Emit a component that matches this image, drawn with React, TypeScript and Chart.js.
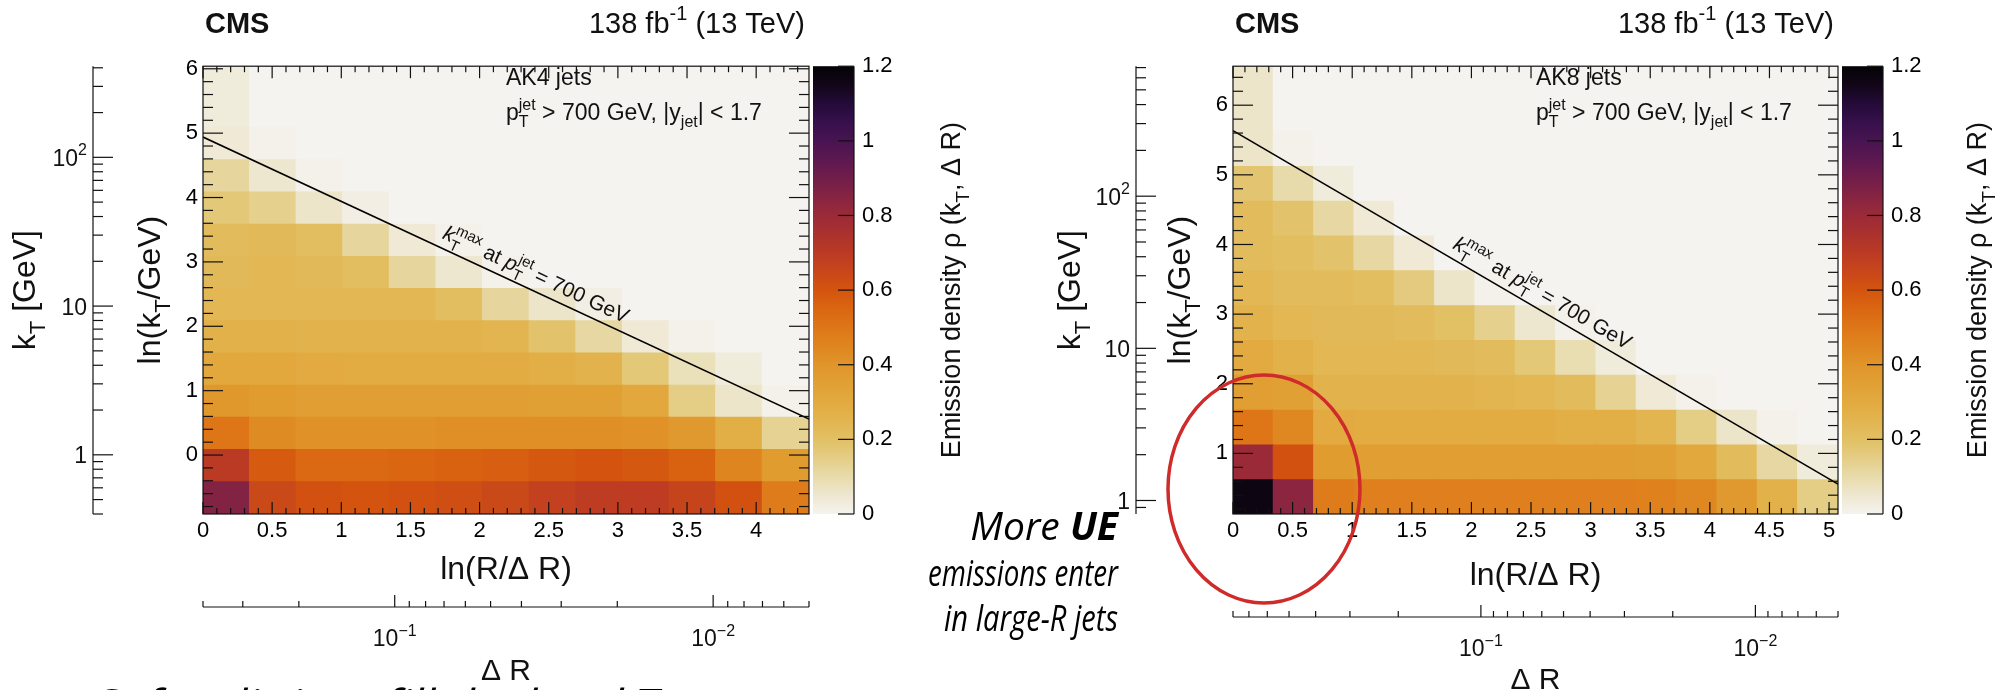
import React, { useEffect, useRef } from 'react';
import { Chart, registerables } from 'chart.js';

Chart.register(...registerables);

const FONT = '"Liberation Sans", Arial, Helvetica, sans-serif';
const SLIDE_FONT = '"Open Sans", "Noto Sans", sans-serif';
const INK = '#111111';
const H = 690;

// ---------- z-axis colour palette (emission density) ----------
const CMAP_V = [0, 0.05, 0.1, 0.15, 0.2, 0.25, 0.3, 0.35, 0.4, 0.45, 0.5, 0.55, 0.6, 0.65, 0.7, 0.75, 0.8, 0.85, 0.9, 0.95, 1.0, 1.05, 1.1, 1.15, 1.2];
const CMAP_C = ['#f4f3ef', '#eee7d0', '#e8dbab', '#e4cd85', '#e2c064', '#e2b550', '#e2aa40', '#e1a034', '#e0952a', '#df8520', '#de7618', '#da6612', '#d4540f', '#c8461a', '#bb3a24', '#ab312e', '#9b2a38', '#872442', '#711d4a', '#5c1850', '#481452', '#36104c', '#240b38', '#120618', '#050306'];
const Z_MIN = 0;
const Z_MAX = 1.2;
const Z_STEP = 0.2;

// ---------- AK4 jets (R = 0.4) ----------
const AK4_X_EDGES = [0, 0.337, 0.674, 1.011, 1.348, 1.685, 2.022, 2.359, 2.696, 3.034, 3.371, 3.708, 4.045, 4.382];
const AK4_Y_EDGES = [-0.916, -0.416, 0.084, 0.584, 1.084, 1.584, 2.084, 2.584, 3.084, 3.584, 4.084, 4.584, 5.084, 5.584, 6.084];
const AK4_RHO = [
  [0.86, 0.64, 0.61, 0.60, 0.61, 0.62, 0.64, 0.67, 0.69, 0.69, 0.66, 0.61, 0.48],
  [0.70, 0.58, 0.54, 0.54, 0.55, 0.56, 0.57, 0.59, 0.60, 0.59, 0.56, 0.45, 0.37],
  [0.50, 0.43, 0.41, 0.41, 0.41, 0.42, 0.42, 0.42, 0.42, 0.41, 0.38, 0.28, 0.13],
  [0.39, 0.37, 0.36, 0.36, 0.36, 0.36, 0.36, 0.35, 0.35, 0.31, 0.15, 0.06, 0.01],
  [0.31, 0.31, 0.30, 0.29, 0.29, 0.29, 0.29, 0.28, 0.26, 0.17, 0.08, 0.03, 0.00],
  [0.27, 0.27, 0.26, 0.26, 0.26, 0.26, 0.25, 0.19, 0.11, 0.04, 0.01, 0.00, 0.00],
  [0.24, 0.24, 0.24, 0.24, 0.24, 0.21, 0.12, 0.06, 0.02, 0.00, 0.00, 0.00, 0.00],
  [0.23, 0.24, 0.23, 0.21, 0.12, 0.05, 0.01, 0.00, 0.00, 0.00, 0.00, 0.00, 0.00],
  [0.22, 0.23, 0.21, 0.12, 0.04, 0.01, 0.00, 0.00, 0.00, 0.00, 0.00, 0.00, 0.00],
  [0.17, 0.14, 0.06, 0.02, 0.00, 0.00, 0.00, 0.00, 0.00, 0.00, 0.00, 0.00, 0.00],
  [0.12, 0.05, 0.01, 0.00, 0.00, 0.00, 0.00, 0.00, 0.00, 0.00, 0.00, 0.00, 0.00],
  [0.04, 0.01, 0.00, 0.00, 0.00, 0.00, 0.00, 0.00, 0.00, 0.00, 0.00, 0.00, 0.00],
  [0.03, 0.00, 0.00, 0.00, 0.00, 0.00, 0.00, 0.00, 0.00, 0.00, 0.00, 0.00, 0.00],
  [0.03, 0.00, 0.00, 0.00, 0.00, 0.00, 0.00, 0.00, 0.00, 0.00, 0.00, 0.00, 0.00],
];
const AK4_KTMAX_X = [0, 4.382];
const AK4_KTMAX_Y = [4.94, 0.558];

// ---------- AK8 jets (R = 0.8) ----------
const AK8_X_EDGES = [0, 0.338, 0.677, 1.015, 1.353, 1.692, 2.030, 2.368, 2.707, 3.045, 3.383, 3.722, 4.060, 4.398, 4.737, 5.075];
const AK8_Y_EDGES = [0.12, 0.62, 1.12, 1.62, 2.12, 2.62, 3.12, 3.62, 4.12, 4.62, 5.12, 5.62, 6.12, 6.62];
const AK8_RHO = [
  [1.17, 0.84, 0.48, 0.47, 0.47, 0.47, 0.47, 0.47, 0.47, 0.47, 0.46, 0.44, 0.38, 0.27, 0.15],
  [0.80, 0.61, 0.37, 0.36, 0.36, 0.36, 0.36, 0.36, 0.36, 0.36, 0.35, 0.31, 0.22, 0.11, 0.03],
  [0.50, 0.44, 0.30, 0.29, 0.29, 0.29, 0.29, 0.29, 0.28, 0.28, 0.25, 0.15, 0.06, 0.01, 0.00],
  [0.36, 0.35, 0.26, 0.26, 0.26, 0.26, 0.25, 0.24, 0.22, 0.13, 0.04, 0.01, 0.00, 0.00, 0.00],
  [0.30, 0.27, 0.24, 0.24, 0.24, 0.23, 0.22, 0.17, 0.09, 0.03, 0.00, 0.00, 0.00, 0.00, 0.00],
  [0.26, 0.24, 0.23, 0.23, 0.22, 0.20, 0.14, 0.05, 0.01, 0.00, 0.00, 0.00, 0.00, 0.00, 0.00],
  [0.24, 0.22, 0.22, 0.21, 0.16, 0.06, 0.01, 0.00, 0.00, 0.00, 0.00, 0.00, 0.00, 0.00, 0.00],
  [0.22, 0.21, 0.19, 0.11, 0.04, 0.00, 0.00, 0.00, 0.00, 0.00, 0.00, 0.00, 0.00, 0.00, 0.00],
  [0.22, 0.19, 0.11, 0.04, 0.00, 0.00, 0.00, 0.00, 0.00, 0.00, 0.00, 0.00, 0.00, 0.00, 0.00],
  [0.18, 0.10, 0.03, 0.00, 0.00, 0.00, 0.00, 0.00, 0.00, 0.00, 0.00, 0.00, 0.00, 0.00, 0.00],
  [0.06, 0.01, 0.00, 0.00, 0.00, 0.00, 0.00, 0.00, 0.00, 0.00, 0.00, 0.00, 0.00, 0.00, 0.00],
  [0.06, 0.00, 0.00, 0.00, 0.00, 0.00, 0.00, 0.00, 0.00, 0.00, 0.00, 0.00, 0.00, 0.00, 0.00],
  [0.06, 0.00, 0.00, 0.00, 0.00, 0.00, 0.00, 0.00, 0.00, 0.00, 0.00, 0.00, 0.00, 0.00, 0.00],
];
const AK8_KTMAX_X = [0, 5.075];
const AK8_KTMAX_Y = [5.635, 0.56];

// ---------- secondary axis tick labels ----------
const KT_LABEL_VALUES = [1, 10, 100];
const KT_LABEL_TEXT = [[{ t: '1' }], [{ t: '10' }], [{ t: '10', sup: '2' }]];
const DR_LABEL_VALUES = [0.1, 0.01];
const DR_LABEL_TEXT = [[{ t: '10', sup: '\u22121' }], [{ t: '10', sup: '\u22122' }]];

// ---------- texts ----------
const T_LN_KT = [{ t: 'ln(k', sub: 'T' }, { t: '/GeV)' }];
const T_KT = [{ t: 'k', sub: 'T' }, { t: ' [GeV]' }];
const T_X = [{ t: 'ln(R/\u0394 R)' }];
const T_DR = [{ t: '\u0394 R' }];
const T_Z = [{ t: 'Emission density \u03c1 (k', sub: 'T' }, { t: ', \u0394 R)' }];
const T_LUMI = [{ t: '138 fb', sup: '-1' }, { t: ' (13 TeV)' }];
const T_SEL = [{ t: 'p', sub: 'T', sup: 'jet' }, { t: ' > 700 GeV, |y', sub: 'jet' }, { t: '| < 1.7' }];
const T_DIAG = [{ t: 'k', it: true, sub: 'T', sup: 'max' }, { t: ' at ' }, { t: 'p', it: true, sub: 'T', sup: 'jet' }, { t: ' = 700 GeV' }];
const UE_LINES = [
  [{ t: 'More ', it: true }, { t: 'UE', it: true, b: true }],
  [{ t: 'emissions enter', it: true }],
  [{ t: 'in large-R jets', it: true }],
];
const UE_SIZES = [39, 37, 37];
const UE_WIDTHS = [0, 190, 174];
const UE_BASELINES = [540, 586, 631];
const FOOTER = [{ t: 'Soft splittings fill the low-kT area', it: true }];

// ---------- panels (data + page layout in px) ----------
const PANELS = [
  {
    key: 'ak4', jet: 'AK4 jets', R: 0.4, drMin: 0.005,
    xEdges: AK4_X_EDGES, yEdges: AK4_Y_EDGES, rho: AK4_RHO, lineX: AK4_KTMAX_X, lineY: AK4_KTMAX_Y,
    xMax: 4.382, yMin: -0.916, yMax: 6.04, kMin: 0.4, kMax: 410,
    canvasLeft: 0, canvasW: 1010,
    area: { left: 203, right: 809, top: 48, bottom: 514 },
    kAxisX: 93, kTitleX: 35, lnTitleX: 160, zTitleX: 960,
    xTitleBase: 579, drAxisY: 607, drLabelBase: 646, drTitleBase: 680, diagX: 2.36,
    footer: true, ue: false,
  },
  {
    key: 'ak8', jet: 'AK8 jets', R: 0.8, drMin: 0.005,
    xEdges: AK8_X_EDGES, yEdges: AK8_Y_EDGES, rho: AK8_RHO, lineX: AK8_KTMAX_X, lineY: AK8_KTMAX_Y,
    xMax: 5.075, yMin: 0.13, yMax: 6.56, kMin: 0.815, kMax: 715,
    canvasLeft: 900, canvasW: 1115,
    area: { left: 1233, right: 1838, top: 48, bottom: 514 },
    kAxisX: 1136, kTitleX: 1080, lnTitleX: 1190, zTitleX: 1986,
    xTitleBase: 585, drAxisY: 617, drLabelBase: 656, drTitleBase: 689, diagX: 2.53,
    footer: false, ue: true,
  },
];

function hexToRgb(h: string) {
  return [parseInt(h.slice(1, 3), 16), parseInt(h.slice(3, 5), 16), parseInt(h.slice(5, 7), 16)];
}
const CMAP_RGB = CMAP_C.map(hexToRgb);

function cmap(v: number) {
  if (v <= CMAP_V[0]) return CMAP_C[0];
  for (let i = 1; i < CMAP_V.length; i++) {
    if (v <= CMAP_V[i]) {
      const t = (v - CMAP_V[i - 1]) / (CMAP_V[i] - CMAP_V[i - 1]);
      const a = CMAP_RGB[i - 1], b = CMAP_RGB[i];
      const c = a.map((x, k) => Math.round(x + (b[k] - x) * t));
      return `rgb(${c[0]},${c[1]},${c[2]})`;
    }
  }
  return CMAP_C[CMAP_C.length - 1];
}

const fmtTick = (v: any) => String(parseFloat(Number(v).toFixed(3)));

function layoutRich(ctx: any, segs: any[], size: number, fam: string) {
  const small = Math.round(size * 0.7);
  const f = (sz: number, it?: boolean, b?: boolean) => `${it ? 'italic ' : ''}${b ? 'bold ' : ''}${sz}px ${fam}`;
  const items: any[] = [];
  let w = 0;
  for (const s of segs) {
    if (s.t) {
      const font = f(size, s.it, s.b);
      ctx.font = font;
      const mw = ctx.measureText(s.t).width;
      items.push({ t: s.t, font, dx: w, dy: 0 });
      w += mw;
    }
    if (s.sub || s.sup) {
      const font = f(small, false, s.b);
      ctx.font = font;
      let mw = 0;
      if (s.sub) { items.push({ t: s.sub, font, dx: w, dy: size * 0.32 }); mw = Math.max(mw, ctx.measureText(s.sub).width); }
      if (s.sup) { items.push({ t: s.sup, font, dx: w, dy: -size * 0.45 }); mw = Math.max(mw, ctx.measureText(s.sup).width); }
      w += mw;
    }
  }
  return { items, w };
}

function drawRich(ctx: any, segs: any[], x: number, y: number, size: number, align: string, fam: string = FONT, fitW?: number) {
  const { items, w } = layoutRich(ctx, segs, size, fam);
  const sx = fitW ? fitW / w : 1;
  const tw = w * sx;
  const x0 = align === 'left' ? x : align === 'right' ? x - tw : x - tw / 2;
  ctx.save();
  ctx.translate(x0, y);
  ctx.scale(sx, 1);
  ctx.textAlign = 'left';
  ctx.textBaseline = 'alphabetic';
  for (const it of items) {
    ctx.font = it.font;
    ctx.fillText(it.t, it.dx, it.dy);
  }
  ctx.restore();
  return tw;
}

function drawRotated(ctx: any, segs: any[], bx: number, cy: number, size: number) {
  ctx.save();
  ctx.translate(bx, cy);
  ctx.rotate(-Math.PI / 2);
  drawRich(ctx, segs, 0, 0, size, 'center');
  ctx.restore();
}

function makeLundPlugin(P: any) {
  return {
    id: 'lund_' + P.key,
    afterDraw(chart: any) {
      const ctx = chart.ctx;
      const xs = chart.scales.x, ys = chart.scales.y, ks = chart.scales.yk, cs = chart.scales.c;
      const { left, right, top, bottom } = chart.chartArea;
      const ox = P.canvasLeft;
      ctx.save();
      ctx.strokeStyle = INK;
      ctx.fillStyle = INK;
      ctx.lineWidth = 1.2;
      const seg = (x1: number, y1: number, x2: number, y2: number) => {
        ctx.beginPath(); ctx.moveTo(x1, y1); ctx.lineTo(x2, y2); ctx.stroke();
      };

      // frame + ROOT style inner ticks
      ctx.strokeRect(left, top, right - left, bottom - top);
      const nx = Math.floor(P.xMax / 0.1 + 1e-6);
      for (let i = 0; i <= nx; i++) {
        const px = xs.getPixelForValue(i * 0.1);
        const L = i % 5 === 0 ? 12 : 6;
        seg(px, bottom, px, bottom - L);
        seg(px, top, px, top + L);
      }
      for (let i = Math.ceil(P.yMin / 0.2 - 1e-6); i * 0.2 <= P.yMax + 1e-6; i++) {
        const py = ys.getPixelForValue(i * 0.2);
        const L = i % 5 === 0 ? 20 : 10;
        seg(left, py, left + L, py);
        seg(right, py, right - L, py);
      }

      // colour bar
      const cbL = right + 4, cbW = 41;
      const cTop = cs.getPixelForValue(Z_MAX), cBot = cs.getPixelForValue(Z_MIN);
      const g = ctx.createLinearGradient(0, cBot, 0, cTop);
      CMAP_V.forEach((v, i) => g.addColorStop((v - Z_MIN) / (Z_MAX - Z_MIN), CMAP_C[i]));
      ctx.fillStyle = g;
      ctx.fillRect(cbL, cTop, cbW, cBot - cTop);
      ctx.fillStyle = INK;
      seg(cbL + cbW, cTop, cbL + cbW, cBot);
      for (const t of cs.ticks) {
        const py = cs.getPixelForValue(t.value);
        seg(cbL + cbW - 16, py, cbL + cbW, py);
      }
      drawRotated(ctx, T_Z, P.zTitleX - ox, (top + bottom) / 2, 27);

      // kT axis (log)
      const kx = P.kAxisX - ox;
      seg(kx, top, kx, bottom);
      for (let e = -1; e <= 3; e++) {
        for (let m = 1; m <= 9; m++) {
          const v = m * Math.pow(10, e);
          if (v < P.kMin * 0.999 || v > P.kMax * 1.001) continue;
          const py = ks.getPixelForValue(v);
          seg(kx, py, kx + (m === 1 ? 20 : 10), py);
        }
      }
      KT_LABEL_VALUES.forEach((v, i) => {
        const py = ks.getPixelForValue(v);
        drawRich(ctx, KT_LABEL_TEXT[i], kx - 6, py + 8.5, 23, 'right');
      });
      drawRotated(ctx, T_KT, P.kTitleX - ox, (top + bottom) / 2, 32);
      drawRotated(ctx, T_LN_KT, P.lnTitleX - ox, (top + bottom) / 2, 32);

      // x title
      drawRich(ctx, T_X, (left + right) / 2, P.xTitleBase, 32, 'center');

      // Delta R axis
      const dy = P.drAxisY;
      seg(left, dy, right, dy);
      for (let e = -3; e <= 0; e++) {
        for (let m = 1; m <= 9; m++) {
          const v = m * Math.pow(10, e);
          if (v > P.R * 1.001 || v < P.drMin * 0.999) continue;
          const px = xs.getPixelForValue(Math.log(P.R / v));
          seg(px, dy, px, dy - (m === 1 ? 12 : 6));
        }
      }
      DR_LABEL_VALUES.forEach((v, i) => {
        const px = xs.getPixelForValue(Math.log(P.R / v));
        drawRich(ctx, DR_LABEL_TEXT[i], px, P.drLabelBase, 23, 'center');
      });
      drawRich(ctx, T_DR, (left + right) / 2, P.drTitleBase, 30, 'center');

      // headers
      drawRich(ctx, [{ t: 'CMS', b: true }], left + 2, 33, 29, 'left');
      drawRich(ctx, T_LUMI, right - 4, 33, 29, 'right');
      drawRich(ctx, [{ t: P.jet }], left + 303, 85, 23, 'left');
      drawRich(ctx, T_SEL, left + 303, 120, 23, 'left');

      // label along the kT max line
      const x0p = xs.getPixelForValue(P.lineX[0]), y0p = ys.getPixelForValue(P.lineY[0]);
      const x1p = xs.getPixelForValue(P.lineX[1]), y1p = ys.getPixelForValue(P.lineY[1]);
      const ang = Math.atan2(y1p - y0p, x1p - x0p);
      const tt = (P.diagX - P.lineX[0]) / (P.lineX[1] - P.lineX[0]);
      ctx.save();
      ctx.translate(x0p + tt * (x1p - x0p), y0p + tt * (y1p - y0p));
      ctx.rotate(ang);
      drawRich(ctx, T_DIAG, 0, -9, 21, 'center');
      ctx.restore();

      // slide annotations
      if (P.ue) {
        ctx.fillStyle = '#000';
        UE_LINES.forEach((segs, i) => {
          drawRich(ctx, segs, 1118 - ox, UE_BASELINES[i], UE_SIZES[i], 'right', SLIDE_FONT, UE_WIDTHS[i] || undefined);
        });
        ctx.strokeStyle = '#d02b2b';
        ctx.lineWidth = 3.5;
        ctx.beginPath();
        ctx.ellipse(1264 - ox, 489, 96, 114, 0, 0, Math.PI * 2);
        ctx.stroke();
      }
      if (P.footer) {
        ctx.fillStyle = '#000';
        drawRich(ctx, FOOTER, 96 - ox, 718, 40, 'left', SLIDE_FONT, 669);
      }
      ctx.restore();
    },
  };
}

function buildConfig(P: any) {
  const centers = P.xEdges.slice(0, -1).map((e: number, i: number) => (e + P.xEdges[i + 1]) / 2);
  const heat = P.rho.map((row: number[], r: number) => ({
    type: 'bar',
    label: 'ln kT bin ' + r,
    data: row.map((v: number, i: number) => ({ x: centers[i], y: [P.yEdges[r], P.yEdges[r + 1]], rho: v })),
    backgroundColor: row.map((v: number) => cmap(v)),
    borderWidth: 0,
    grouped: false,
    barPercentage: 1,
    categoryPercentage: 1,
    inflateAmount: 0.6,
    clip: 0,
    order: 2,
    xAxisID: 'x',
    yAxisID: 'y',
  }));
  const line = {
    type: 'line',
    label: 'kT max',
    data: P.lineX.map((x: number, i: number) => ({ x, y: P.lineY[i] })),
    borderColor: '#000',
    borderWidth: 1.6,
    pointRadius: 0,
    fill: false,
    clip: 0,
    order: 0,
    xAxisID: 'x',
    yAxisID: 'y',
  };
  const a = P.area;
  const tickFont = { family: FONT, size: 22 };
  return {
    type: 'bar',
    data: { datasets: [...heat, line] },
    options: {
      responsive: false,
      maintainAspectRatio: false,
      animation: false,
      events: [],
      layout: { padding: { top: a.top, left: 0, right: 0, bottom: 0 } },
      plugins: { legend: { display: false }, tooltip: { enabled: false }, title: { display: false } },
      scales: {
        x: {
          type: 'linear', position: 'bottom', min: 0, max: P.xMax, offset: false,
          grid: { display: false, drawTicks: false }, border: { display: false },
          ticks: { stepSize: 0.5, includeBounds: false, autoSkip: false, maxRotation: 0, padding: 4, font: tickFont, color: '#000', callback: fmtTick },
          afterFit: (s: any) => { s.height = H - a.bottom; },
        },
        y: {
          type: 'linear', position: 'left', min: P.yMin, max: P.yMax,
          grid: { display: false, drawTicks: false }, border: { display: false },
          ticks: { stepSize: 1, includeBounds: false, autoSkip: false, padding: 5, font: tickFont, color: '#000', callback: fmtTick },
          afterFit: (s: any) => { s.width = a.left - P.canvasLeft; },
        },
        yk: { type: 'logarithmic', display: false, position: 'left', min: P.kMin, max: P.kMax },
        c: {
          type: 'linear', position: 'right', min: Z_MIN, max: Z_MAX, display: true,
          grid: { display: false, drawTicks: false }, border: { display: false },
          ticks: { stepSize: Z_STEP, autoSkip: false, padding: 53, font: tickFont, color: '#000', callback: fmtTick },
          afterFit: (s: any) => { s.width = P.canvasLeft + P.canvasW - a.right; },
        },
      },
    },
    plugins: [makeLundPlugin(P)],
  };
}

function LundPanel({ panel }: { panel: any }) {
  const ref = useRef<HTMLCanvasElement>(null);
  useEffect(() => {
    const chart = new Chart(ref.current as HTMLCanvasElement, buildConfig(panel) as any);
    return () => chart.destroy();
  }, [panel]);
  return (
    <canvas
      ref={ref}
      width={panel.canvasW}
      height={H}
      style={{ position: 'absolute', left: panel.canvasLeft, top: 0, width: panel.canvasW, height: H }}
    />
  );
}

export default function App() {
  useEffect(() => {
    document.body.style.margin = '0';
  }, []);
  return (
    <div style={{ position: 'fixed', left: 0, top: 0, width: 2015, height: H, background: '#ffffff', overflow: 'hidden' }}>
      {PANELS.map((p) => (
        <LundPanel key={p.key} panel={p} />
      ))}
    </div>
  );
}
